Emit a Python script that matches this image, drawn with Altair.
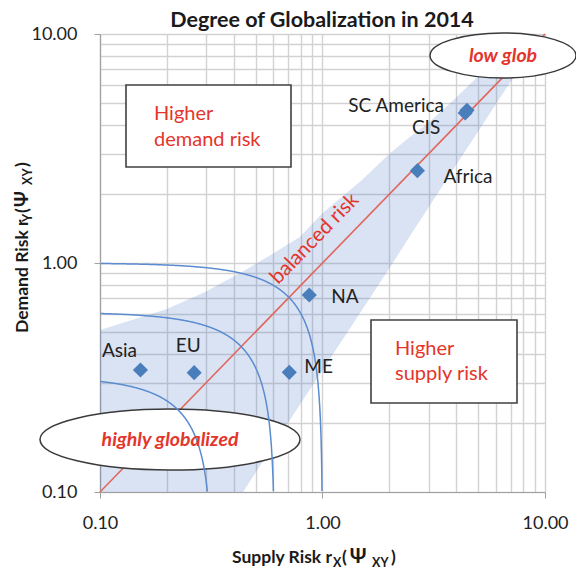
import altair as alt
import pandas as pd

# ---------------- data ----------------
regions = ["Asia", "EU", "ME", "NA", "Africa", "CIS", "SC America"]
supply_risk = [0.152, 0.265, 0.709, 0.872, 2.67, 4.38, 4.46]
demand_risk = [0.341, 0.332, 0.333, 0.725, 2.53, 4.52, 4.64]

# shaded "globalization" band: lower / upper edge read at these x values
band_x = [0.1, 0.2, 0.3, 0.44, 0.6, 0.79, 1.0, 1.5, 2.0, 2.42, 3.0, 4.0, 4.93, 6.0, 7.2, 7.5]
band_low = [0.1, 0.1, 0.1, 0.1, 0.16, 0.24, 0.34, 0.62, 0.95, 1.27, 1.75, 2.69, 3.67, 4.92, 6.43, 7.0]
band_high = [0.51, 0.63, 0.75, 0.92, 1.1, 1.3, 1.65, 2.3, 3.0, 3.5, 4.1, 5.3, 6.44, 7.6, 8.8, 9.0]

# iso-risk quarter circles (radius in linear risk units)
arc_radii = [1.0, 0.61, 0.32]

# balanced-risk diagonal end points
balanced = [0.1, 10.0]

# grid / tick values (log axis, minor lines at 2..9)
tick_values = [0.1, 0.2, 0.3, 0.4, 0.5, 0.6, 0.7, 0.8, 0.9,
               1, 2, 3, 4, 5, 6, 7, 8, 9, 10]

# ---------------- tables ----------------
pts = pd.DataFrame({"region": regions, "sx": supply_risk, "dy": demand_risk})
band = pd.DataFrame({"sx": band_x, "low": band_low, "high": band_high})
arcs = pd.DataFrame({"r": arc_radii})
diag = pd.DataFrame({"sx": balanced, "dy": balanced})
one = pd.DataFrame({"k": [0]})  # single row for annotations

FONT = "Lato"
RED = "#e5352b"
INK = "#1a1a1a"
W, H = 445, 458

label_expr = "(datum.value == 0.1 || datum.value == 1 || datum.value == 10) ? format(datum.value, '.2f') : ''"
major_test = "datum.value == 0.1 || datum.value == 1 || datum.value == 10"

xscale = alt.Scale(type="log", domain=[0.1, 10], nice=False)
yscale = alt.Scale(type="log", domain=[0.1, 10], nice=False)

common_axis = dict(values=tick_values, labelExpr=label_expr, title=None, grid=True,
                   gridColor="#d2d2d2", gridWidth=1.4, domainColor="#a0a0a0", domainWidth=1.2,
                   tickColor="#a0a0a0", tickSize=6,
                   tickOpacity={"condition": {"test": major_test, "value": 1}, "value": 0},
                   labelFont=FONT, labelFontSize=18, labelColor="#222222",
                   labelFlush=False, labelOverlap=False)
xaxis = alt.Axis(labelPadding=16, **common_axis)
yaxis = alt.Axis(labelPadding=17, labelBaseline="middle", **common_axis)


def X(f):
    return alt.X(f, type="quantitative", scale=xscale, axis=xaxis)


def Y(f):
    return alt.Y(f, type="quantitative", scale=yscale, axis=yaxis)


layers = []

# shaded band
layers.append(alt.Chart(band).mark_area(color="#4472c4", opacity=0.2, interpolate="linear").encode(
    x=X("sx"), y=Y("low"), y2=alt.Y2("high")))

# balanced risk diagonal
layers.append(alt.Chart(diag).mark_line(color="#e0675e", strokeWidth=1.6).encode(
    x=X("sx"), y=Y("dy")))

# ellipses (white, outlined)
ell1 = "M-1,0A1,0.308,0,1,1,1,0A1,0.308,0,1,1,-1,0Z"
ell2 = "M-1,0A1,0.235,0,1,1,1,0A1,0.235,0,1,1,-1,0Z"
layers.append(alt.Chart(one).mark_point(shape=ell1, size=146 ** 2, filled=True, fill="white",
                                        stroke="#3a3a3a", strokeWidth=1.5, opacity=1).encode(
    x=alt.value(403), y=alt.value(21.5)))
layers.append(alt.Chart(one).mark_point(shape=ell2, size=260 ** 2, filled=True, fill="white",
                                        stroke="#3a3a3a", strokeWidth=1.5, opacity=1).encode(
    x=alt.value(70), y=alt.value(405.5)))

# quarter circles
layers.append(alt.Chart(arcs).transform_calculate(deg="sequence(0, 90.05, 0.1)")
              .transform_flatten(["deg"])
              .transform_calculate(ax="datum.r * cos(datum.deg * PI / 180)",
                                   ay="datum.r * sin(datum.deg * PI / 180)")
              .transform_filter("datum.ax >= 0.1 && datum.ay >= 0.1")
              .mark_line(color="#5b8bd0", strokeWidth=1.5)
              .encode(x=X("ax"), y=Y("ay"), detail="r:N", order="deg:Q"))

# data points
layers.append(alt.Chart(pts).mark_point(shape="diamond", filled=True, size=230,
                                        color="#4a7ebb", opacity=1).encode(
    x=X("sx"), y=Y("dy")))

# point labels
label_style = {
    "Asia": dict(align="center", dx=-21, dy=-13),
    "EU": dict(align="center", dx=-6, dy=-21),
    "ME": dict(align="left", dx=15, dy=1),
    "NA": dict(align="left", dx=22, dy=8),
    "Africa": dict(align="left", dx=26, dy=12),
    "CIS": dict(align="right", dx=-25, dy=21),
    "SC America": dict(align="right", dx=-23, dy=2),
}
for name, st in label_style.items():
    layers.append(alt.Chart(pts).transform_filter(alt.datum.region == name)
                  .mark_text(font=FONT, fontSize=19, color="#222222", baseline="alphabetic", **st)
                  .encode(x=X("sx"), y=Y("dy"), text="region:N"))

# boxes
layers.append(alt.Chart(one).mark_rect(fill="white", stroke="#404040", strokeWidth=1.6).encode(
    x=alt.value(26), x2=alt.value(191), y=alt.value(51), y2=alt.value(133)))
layers.append(alt.Chart(one).mark_rect(fill="white", stroke="#404040", strokeWidth=1.6).encode(
    x=alt.value(271), x2=alt.value(417), y=alt.value(286), y2=alt.value(369)))


def txt(s, x, y, size=18, color=RED, align="left", weight="normal", style="normal",
        angle=0, font=FONT, baseline="alphabetic"):
    return alt.Chart(one).mark_text(text=s, font=font, fontSize=size, color=color, align=align,
                                    fontWeight=weight, fontStyle=style, angle=angle,
                                    baseline=baseline).encode(x=alt.value(x), y=alt.value(y))


layers += [
    txt("Higher", 54, 86, size=20),
    txt("demand risk", 54, 112, size=20),
    txt("Higher", 295, 321, size=20),
    txt("supply risk", 295, 346, size=20),
    txt("low glob", 403, 28, size=19.5, align="center", weight="bold", style="italic"),
    txt("highly globalized", 70, 412, size=19.5, align="center", weight="bold", style="italic"),
    txt("balanced risk", 219, 209, size=20.5, color=RED, align="center", angle=314),
    # chart title
    txt("Degree of Globalization in 2014", 222, -7, size=21.5, color=INK, align="center",
        weight="bold"),
    # x axis title with subscripts
    txt("Supply Risk r", 232, 529, size=17.5, color=INK, align="right", weight="bold"),
    txt("X", 233, 533, size=12.5, color=INK, weight="bold"),
    txt("(", 242, 529, size=17.5, color=INK, weight="bold"),
    txt("Ψ", 258, 529, size=20, color=INK, weight="bold", align="center"),
    txt("XY", 272, 533, size=12.5, color=INK, weight="bold"),
    txt(")", 291, 529, size=17.5, color=INK, weight="bold"),
    # y axis title with subscripts (rotated)
    txt("Demand Risk r", -72, 299, size=17.5, color=INK, weight="bold", angle=270),
    txt("Y", -68, 188, size=12.5, color=INK, weight="bold", angle=270),
    txt("(", -72, 179, size=17.5, color=INK, weight="bold", angle=270),
    txt("Ψ", -72, 165, size=19, color=INK, weight="bold", angle=270, align="center"),
    txt("XY", -68, 151, size=12.5, color=INK, weight="bold", angle=270),
    txt(")", -72, 133, size=17.5, color=INK, weight="bold", angle=270),
]

chart = alt.layer(*layers).properties(
    width=W, height=H,
    autosize=alt.AutoSizeParams(type="none"),
    padding={"left": 92, "top": 26, "right": 31, "bottom": 78},
    background="white",
).configure_view(strokeWidth=0)

chart.save("out.html", embed_options={"renderer": "svg", "actions": False})
